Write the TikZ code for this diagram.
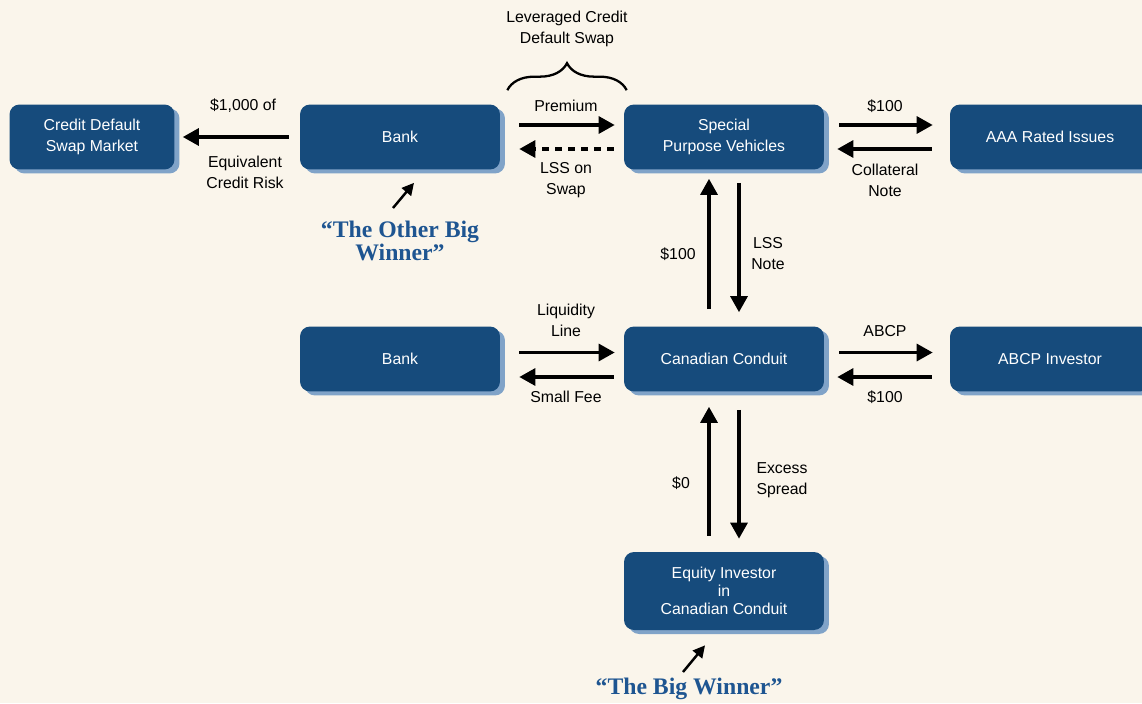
\documentclass[tikz,border=0pt]{standalone}
\usepackage{fontspec}
\setmainfont{Liberation Sans}
\newfontfamily\winnerfont{Liberation Serif}
\usetikzlibrary{arrows.meta, shadows, decorations.pathreplacing}
\definecolor{paper}{RGB}{250,245,235}
\definecolor{boxblue}{RGB}{22,75,124}
\definecolor{shadeblue}{RGB}{128,163,200}
\definecolor{winblue}{RGB}{30,85,145}
\tikzstyle{block} = [rectangle, fill=boxblue, text=white, align=center,
    minimum width=4cm, minimum height=1.3cm, rounded corners=0.2cm,
    drop shadow={shadow xshift=0.1cm, shadow yshift=-0.08cm, fill=shadeblue, opacity=1},
    font=\fontsize{9}{11.9}\selectfont]
\tikzstyle{info} = [align=center, inner sep=0pt, font=\fontsize{9}{11.9}\selectfont]
\tikzstyle{line} = [draw, line width=1.8pt, -{Triangle[length=0.32cm,width=0.34cm]}]
\tikzstyle{winner} = [align=center, text=winblue, font=\winnerfont\bfseries\fontsize{13.5}{11.5}\selectfont]
\tikzstyle{pointer} = [draw, line width=1.4pt, -{Triangle[length=0.24cm,width=0.24cm]}]
\tikzstyle{swapbrace} = [draw, line width=1.3pt, decorate, decoration={brace, amplitude=0.54cm}]

\begin{document}
\begin{tikzpicture}[x=0.02cm, y=-0.02cm]
        \fill[paper] (0,0) rectangle (1142,703);
        \useasboundingbox (0,0) rectangle (1142,703);
        % Place nodes
        \node [block, minimum width=3.3cm] (cds) at (92,137) {Credit Default\\Swap Market};
        \node [block] (bank) at (400,137) {Bank};
        \node [block] (spv) at (724,137) {Special\\Purpose Vehicles};
        \node [block] (aaa) at (1050,137) {AAA Rated Issues};
        \node [block] (liqbank) at (400,359) {Bank};
        \node [block] (conduit) at (724,359) {Canadian Conduit};
        \node [block] (abcp) at (1050,359) {ABCP Investor};
        \node [block, minimum height=1.56cm, font=\fontsize{9}{10.2}\selectfont] (equity) at (724,591)
            {Equity Investor\\in\\Canadian Conduit};
        % Info nodes
        \node [info] (cdsamount) at (243,106) {\$1,000 of};
        \node [info] (cdsrisk) at (245,172) {Equivalent\\Credit Risk};
        \node [info] (lcds) at (567,29) {Leveraged Credit\\Default Swap};
        \node [info] (premium) at (566,106) {Premium};
        \node [info] (lssswap) at (566,180) {LSS on\\Swap};
        \node [info] (aaacash) at (885,106) {\$100};
        \node [info] (collnote) at (885,180) {Collateral\\Note};
        \node [info] (spvcash) at (678,254) {\$100};
        \node [info] (lssnote) at (768,254) {LSS\\Note};
        \node [info] (liqline) at (566,320) {Liquidity\\Line};
        \node [info] (smallfee) at (566,397) {Small Fee};
        \node [info] (abcpnote) at (885,331) {ABCP};
        \node [info] (abcpcash) at (885,397) {\$100};
        \node [info] (equitycash) at (681,483) {\$0};
        \node [info] (spread) at (782,480) {Excess\\Spread};
        \node [winner] (otherwin) at (400,241) {“The Other Big\\Winner”};
        \node [winner] (bigwin) at (689,689) {“The Big Winner”};
        % Draw edges
        \path [line, shorten <=0.22cm, shorten >=0.16cm] (bank.west) -- (cds.east);
        \path [line, shorten <=0.38cm, shorten >=0.18cm] ([yshift=0.24cm]bank.east) -- ([yshift=0.24cm]spv.west);
        \path [line, dash pattern=on 0.14cm off 0.12cm, shorten <=0.2cm, shorten >=0.38cm]
            ([yshift=-0.24cm]spv.west) -- ([yshift=-0.24cm]bank.east);
        \path [line, shorten <=0.3cm, shorten >=0.34cm] ([yshift=0.24cm]spv.east) -- ([yshift=0.24cm]aaa.west);
        \path [line, shorten <=0.36cm, shorten >=0.26cm] ([yshift=-0.24cm]aaa.west) -- ([yshift=-0.24cm]spv.east);
        \path [line, shorten <=0.34cm, shorten >=0.18cm] ([xshift=-0.3cm]conduit.north) -- ([xshift=-0.3cm]spv.south);
        \path [line, shorten <=0.26cm, shorten >=0.28cm] ([xshift=0.3cm]spv.south) -- ([xshift=0.3cm]conduit.north);
        \path [line, shorten <=0.38cm, shorten >=0.18cm] ([yshift=0.13cm]liqbank.east) -- ([yshift=0.13cm]conduit.west);
        \path [line, shorten <=0.2cm, shorten >=0.38cm] ([yshift=-0.36cm]conduit.west) -- ([yshift=-0.36cm]liqbank.east);
        \path [line, shorten <=0.3cm, shorten >=0.34cm] ([yshift=0.13cm]conduit.east) -- ([yshift=0.13cm]abcp.west);
        \path [line, shorten <=0.36cm, shorten >=0.26cm] ([yshift=-0.36cm]abcp.west) -- ([yshift=-0.36cm]conduit.east);
        \path [line, shorten <=0.32cm, shorten >=0.3cm] ([xshift=-0.3cm]equity.north) -- ([xshift=-0.3cm]conduit.south);
        \path [line, shorten <=0.36cm, shorten >=0.26cm] ([xshift=0.3cm]conduit.south) -- ([xshift=0.3cm]equity.north);
        \path [pointer] ([shift={(-0.14cm,0.66cm)}]otherwin.center) -- ([shift={(0.28cm,-0.26cm)}]bank.south);
        \path [pointer] ([shift={(-0.12cm,0.34cm)}]bigwin.center) -- ([shift={(-0.38cm,-0.3cm)}]equity.south);
        \path [swapbrace] ([shift={(0.14cm,0.28cm)}]bank.north east) -- ([shift={(0.06cm,0.28cm)}]spv.north west);
\end{tikzpicture}
\end{document}
